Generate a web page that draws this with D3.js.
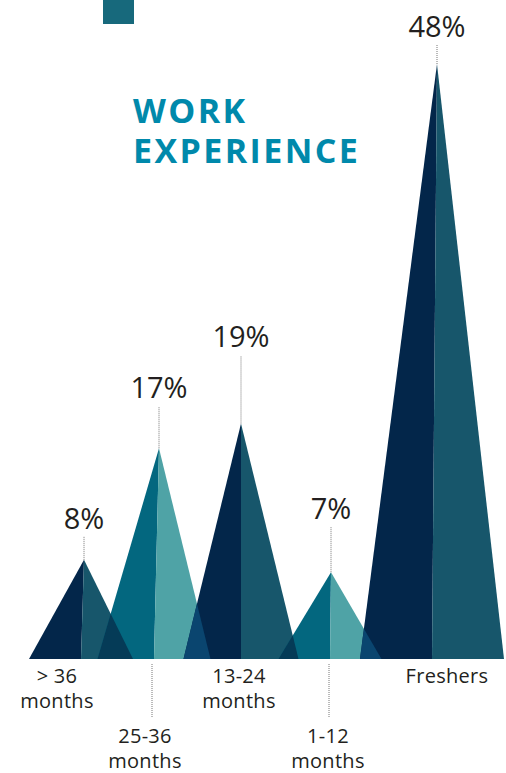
<!DOCTYPE html>
<html>
<head>
<meta charset="utf-8">
<script src="https://cdn.jsdelivr.net/npm/d3@7"></script>
<style>
  body { margin: 0; background: #fff; }
  svg { display: block; }
</style>
</head>
<body>
<div id="chart"></div>
<script>
(function(){
// Data
const categories = ["> 36 months", "25-36 months", "13-24 months", "1-12 months", "Freshers"];
const values = [8, 17, 19, 7, 48];
const percentLabels = ["8%", "17%", "19%", "7%", "48%"];
const title = ["WORK", "EXPERIENCE"];

const width = 506, height = 773;
const baseY = 659;

const svg = d3.select("#chart").append("svg")
    .attr("width", width)
    .attr("height", height);

// Scales
const x = d3.scaleOrdinal()
    .domain(categories)
    .range([84, 159, 241, 331, 437]);   // apex positions
const lean = [3, 5, 0, 1, 5];          // base centre sits a little left of apex
const y = d3.scaleLinear().domain([0, 48]).range([baseY, 64]);
const halfW = d3.scaleLinear().domain([0, 48]).range([48, 72]);

const palette = [
    { left: "#03264a", right: "#17566b" },
    { left: "#03677f", right: "#4fa3a6" }
];
const overlapColors = ["#053b57", "#0a456f"];

const tris = categories.map((c, i) => {
    const ax = x(c), ay = y(values[i]);
    const bc = ax - lean[i];
    const hw = halfW(values[i]);
    return {
        cat: c, i,
        ax, ay,
        left: [[bc - hw, baseY], [ax, ay], [bc, baseY]],
        right: [[bc, baseY], [ax, ay], [bc + hw, baseY]],
        colors: palette[i % 2]
    };
});

const pts = p => p.map(d => d.join(",")).join(" ");

// decorative square
svg.append("rect")
    .attr("x", 103).attr("y", 0)
    .attr("width", 31).attr("height", 24)
    .attr("fill", "#17697c");

// title, one text per line
title.forEach((t, i) => {
    svg.append("text")
        .attr("x", 133).attr("y", 123 + i * 40)
        .attr("font-family", "'Open Sans', sans-serif")
        .attr("font-weight", 700)
        .attr("font-size", 34)
        .attr("letter-spacing", 2.4)
        .attr("fill", "#0089ab")
        .text(t);
});

const defs = svg.append("defs");
const g = svg.append("g");

// triangles (two halves each)
tris.forEach(t => {
    g.append("polygon").attr("points", pts(t.left)).attr("fill", t.colors.left);
    g.append("polygon").attr("points", pts(t.right)).attr("fill", t.colors.right);
});

// overlaps between neighbouring triangles
tris.slice(0, -1).forEach((t, i) => {
    defs.append("clipPath").attr("id", "clip-" + i)
        .append("polygon").attr("points", pts(t.right));
    g.append("polygon")
        .attr("points", pts(tris[i + 1].left))
        .attr("clip-path", "url(#clip-" + i + ")")
        .attr("fill", overlapColors[i % 2]);
});

// value labels with dotted leaders
const leaderLen = [23, 42, 68, 45, 19];
const labelFont = "'Open Sans', sans-serif";

tris.forEach((t, i) => {
    g.append("line")
        .attr("x1", t.ax).attr("x2", t.ax)
        .attr("y1", t.ay).attr("y2", t.ay - leaderLen[i])
        .attr("stroke", "#777")
        .attr("stroke-width", 1)
        .attr("stroke-dasharray", "1,1");
    g.append("text")
        .attr("x", t.ax)
        .attr("y", t.ay - leaderLen[i] - 8)
        .attr("text-anchor", "middle")
        .attr("font-family", labelFont)
        .attr("font-size", 29)
        .attr("fill", "#231f20")
        .text(percentLabels[i]);
});

// category labels; 2nd and 4th sit lower with a dotted leader
const labelDx = [-27, -14, -2, -3, 10];
const leaderDx = [0, -7, 0, -2, 0];
tris.forEach((t, i) => {
    const low = i % 2 === 1;
    const cx = t.ax + labelDx[i];
    const top = low ? 743 : 683;
    if (low) {
        g.append("line")
            .attr("x1", t.ax + leaderDx[i]).attr("x2", t.ax + leaderDx[i])
            .attr("y1", baseY + 5).attr("y2", top - 25)
            .attr("stroke", "#777")
            .attr("stroke-width", 1)
            .attr("stroke-dasharray", "1,1");
    }
    const lines = t.cat.includes(" months") ? [t.cat.replace(" months", ""), "months"] : [t.cat];
    g.append("text")
        .attr("text-anchor", "middle")
        .attr("font-family", labelFont)
        .attr("font-size", 20)
        .attr("letter-spacing", 0.3)
        .attr("fill", "#231f20")
        .selectAll("tspan")
        .data(lines)
        .join("tspan")
        .attr("x", cx)
        .attr("y", (d, k) => top + k * 25)
        .text(d => d);
});
})();
</script>
</body>
</html>
